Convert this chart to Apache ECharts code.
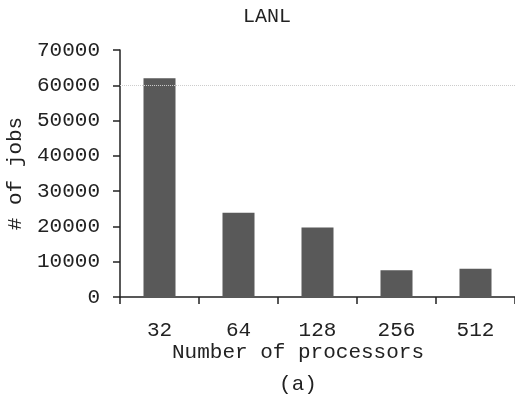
<!DOCTYPE html>
<html>
<head>
<meta charset="utf-8">
<script src="https://cdn.jsdelivr.net/npm/echarts@6/dist/echarts.min.js"></script>
<style>
html,body{margin:0;padding:0;background:#fff;}
#chart{width:515px;height:398px;}
</style>
</head>
<body>
<div id="chart"></div>
<script>
var categories = ['32', '64', '128', '256', '512'];
var jobs = [62000, 23900, 19700, 7600, 8000];
var yTicks = [0, 10000, 20000, 30000, 40000, 50000, 60000, 70000];

var FONT = '"Liberation Mono", "DejaVu Sans Mono", monospace';
var chart = echarts.init(document.getElementById('chart'));
chart.setOption({
  backgroundColor: '#ffffff',
  animation: false,
  graphic: [
    { type: 'text', x: 267, y: 17, style: { text: 'LANL', font: '20px ' + FONT, fill: '#222', textAlign: 'center', textVerticalAlign: 'middle' } },
    { type: 'text', x: 298, y: 352, style: { text: 'Number of processors', font: '21px ' + FONT, fill: '#222', textAlign: 'center', textVerticalAlign: 'middle' } },
    { type: 'text', x: 298, y: 384, style: { text: '(a)', font: '21px ' + FONT, fill: '#222', textAlign: 'center', textVerticalAlign: 'middle' } }
  ],
  grid: { left: 120, right: 0, top: 50, bottom: 101, containLabel: false, outerBoundsMode: 'none' },
  xAxis: {
    type: 'category',
    data: categories,
    axisLine: { lineStyle: { color: '#222', width: 1.5 } },
    axisTick: { show: true, length: 7, alignWithLabel: false, lineStyle: { color: '#222', width: 1.5 } },
    axisLabel: { fontFamily: FONT, fontSize: 21, color: '#222', margin: 23 },
    splitLine: { show: false }
  },
  yAxis: {
    type: 'value',
    min: yTicks[0],
    max: yTicks[yTicks.length - 1],
    interval: 10000,
    name: '# of jobs',
    nameLocation: 'middle',
    nameGap: 88,
    nameTextStyle: { fontFamily: FONT, fontSize: 21, color: '#222' },
    axisLine: { show: true, lineStyle: { color: '#222', width: 1.5 } },
    axisTick: { show: true, length: 7, lineStyle: { color: '#222', width: 1.5 } },
    axisLabel: { fontFamily: FONT, fontSize: 21, color: '#222', margin: 20, formatter: function (v) { return String(v); } },
    splitLine: { show: false }
  },
  series: [{
    type: 'bar',
    data: jobs,
    barWidth: 32,
    itemStyle: { color: '#595959' },
    markLine: {
      silent: true,
      symbol: 'none',
      label: { show: false },
      lineStyle: { color: '#cccccc', type: 'dotted', width: 1 },
      data: [{ yAxis: 60000 }]
    }
  }]
});
</script>
</body>
</html>
